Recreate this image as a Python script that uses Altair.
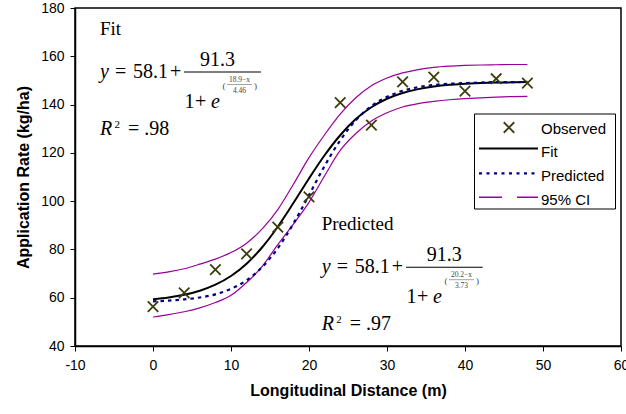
import altair as alt
import pandas as pd

# ---------------- data ----------------
obs_x = [0, 4, 8, 12, 16, 20, 24, 28, 32, 36, 40, 44, 48]
obs_y = [56.3, 62.0, 71.6, 78.2, 89.2, 101.8, 140.8, 131.5, 149.4, 151.4, 145.6, 150.7, 148.9]

curve_x = [0, 2, 4, 6, 8, 10, 12, 14, 16, 18, 20, 22, 24, 26, 28, 30, 32, 34, 36, 38, 40, 42, 44, 46, 48]
fit_y = [59.4, 60.1, 61.2, 62.9, 65.4, 69.0, 74.1, 80.9, 89.4, 99.2, 109.4, 119.0, 127.3,
         134.0, 138.9, 142.4, 144.8, 146.4, 147.5, 148.2, 148.6, 148.9, 149.1, 149.2, 149.3]
pred_y = [58.5, 58.8, 59.3, 60.1, 61.4, 63.7, 67.2, 72.7, 80.5, 90.7, 102.5, 114.6, 125.2,
          133.5, 139.4, 143.2, 145.7, 147.2, 148.1, 148.6, 148.9, 149.1, 149.3, 149.3, 149.4]
ci_upper = [69.8, 70.7, 72.0, 73.9, 76.0, 78.7, 82.6, 88.5, 96.5, 107.0, 118.0, 127.5, 136.0,
            142.8, 147.8, 151.0, 153.1, 154.5, 155.4, 155.9, 156.2, 156.4, 156.5, 156.6, 156.6]
ci_lower = [52.0, 53.0, 54.2, 55.8, 58.0, 61.0, 66.3, 73.0, 82.0, 90.5, 99.5, 110.5, 121.0,
            128.0, 133.2, 136.6, 139.0, 140.4, 141.3, 142.0, 142.5, 142.8, 143.1, 143.3, 143.4]

x_ticks = [-10, 0, 10, 20, 30, 40, 50, 60]
y_ticks = [40, 60, 80, 100, 120, 140, 160, 180]

legend_labels = ["Observed", "Fit", "Predicted", "95% CI"]

# ---------------- styles ----------------
SANS = "Liberation Sans"
SERIF = "Liberation Serif"
OBS_COLOR = "#3d3d0f"
FIT_COLOR = "#000000"
PRED_COLOR = "#000080"
CI_COLOR = "#990099"
X_SHAPE = "M-1,-1L1,1M-1,1L1,-1"

W, H = 546, 338

obs_df = pd.DataFrame({"x": obs_x, "y": obs_y})
fit_df = pd.DataFrame({"x": curve_x, "y": fit_y})
pred_df = pd.DataFrame({"x": curve_x, "y": pred_y})
up_df = pd.DataFrame({"x": curve_x, "y": ci_upper})
lo_df = pd.DataFrame({"x": curve_x, "y": ci_lower})

xenc = alt.X("x:Q",
             scale=alt.Scale(domain=[-10, 60], nice=False, zero=False),
             axis=alt.Axis(values=x_ticks, labelExpr="'' + datum.value",
                           title="Longitudinal Distance (m)",
                           grid=False, labelFlush=False, labelOverlap=False))
yenc = alt.Y("y:Q",
             scale=alt.Scale(domain=[40, 180], nice=False, zero=False),
             axis=alt.Axis(values=y_ticks, labelExpr="'' + datum.value",
                           title="Application Rate (kg/ha)",
                           grid=False, labelFlush=False, labelOverlap=False))


def curve(df, color, width, dash=None):
    kw = dict(color=color, strokeWidth=width, interpolate="monotone", clip=True)
    if dash:
        kw["strokeDash"] = dash
    return alt.Chart(df).mark_line(**kw).encode(x=xenc, y=yenc)


ci_up = curve(up_df, CI_COLOR, 1.2)
ci_lo = curve(lo_df, CI_COLOR, 1.2)
fit_line = curve(fit_df, FIT_COLOR, 2)
pred_line = curve(pred_df, PRED_COLOR, 2.2, [3.5, 4])
obs_pts = alt.Chart(obs_df).mark_point(shape=X_SHAPE, size=110, filled=False,
                                       color=OBS_COLOR, strokeWidth=1.8,
                                       opacity=1).encode(x=xenc, y=yenc)

one = pd.DataFrame({"k": [0]})


def label(s, x, y, size=20, font=SERIF, style="normal", align="left",
          baseline="alphabetic", color="black", weight="normal"):
    return alt.Chart(one).mark_text(text=s, font=font, fontSize=size, fontStyle=style,
                                    fontWeight=weight, align=align, baseline=baseline,
                                    color=color).encode(x=alt.value(x), y=alt.value(y))


def hline(x1, x2, y, color="black", width=1.0, dash=None):
    kw = dict(color=color, strokeWidth=width)
    if dash:
        kw["strokeDash"] = dash
    return alt.Chart(one).mark_rule(**kw).encode(x=alt.value(x1), x2=alt.value(x2), y=alt.value(y))


def equation(name, x0, base, num_cx, line_x1, line_x2, a_text, b_text, r2_text):
    small = "#444444"
    return [
        label(name, x0, base - 43, size=19),
        label("y", x0, base, style="italic"),
        label("=", x0 + 15, base),
        label("58.1", x0 + 33, base),
        label("+", x0 + 70, base),
        label("91.3", num_cx, base - 12, align="center"),
        hline(line_x1, line_x2, base - 5.5, width=1.1),
        label("1", line_x1 + 0.5, base + 30),
        label("+", line_x1 + 11, base + 30),
        label("e", line_x1 + 27, base + 30, style="italic"),
        label("(", line_x1 + 38.5, base + 8.5, size=9, baseline="middle", color=small),
        label(a_text, line_x1 + 55.5, base + 2.5, size=7.5, align="center", baseline="middle", color=small),
        hline(line_x1 + 43, line_x1 + 68, base + 7, width=0.6, color="#666666"),
        label(b_text, line_x1 + 55.5, base + 13.5, size=7.5, align="center", baseline="middle", color=small),
        label(")", line_x1 + 70, base + 8.5, size=9, baseline="middle", color=small),
        label("R", x0, base + 57, style="italic"),
        label("2", x0 + 14.5, base + 50, size=11),
        label(r2_text, x0 + 28, base + 57),
    ]


fit_eq = equation("Fit", 25, 69.5, 142.5, 109, 186, "18.9\u2212x", "4.46", "= .98")
pred_eq = equation("Predicted", 246.7, 264.7, 369.2, 331, 407.7, "20.2\u2212x", "3.73", "= .97")

# ---------------- legend ----------------
legend = [
    alt.Chart(one).mark_rect(fill="white", stroke="black", strokeWidth=1).encode(
        x=alt.value(399.5), x2=alt.value(540.5), y=alt.value(106), y2=alt.value(201)),
    alt.Chart(one).mark_point(shape=X_SHAPE, size=110, filled=False, color=OBS_COLOR,
                              strokeWidth=1.8, opacity=1).encode(x=alt.value(434), y=alt.value(119.5)),
    hline(404, 463, 140.5, color=FIT_COLOR, width=2),
    hline(404, 463, 165.3, color=PRED_COLOR, width=2.2, dash=[3, 4.5]),
    hline(404, 463, 189.3, color=CI_COLOR, width=1.4, dash=[23, 15]),
]
for lab, yy in zip(legend_labels, [120.5, 143.5, 168, 191.5]):
    legend.append(label(lab, 466, yy, size=15, font=SANS, baseline="middle"))

chart = alt.layer(
    ci_up, ci_lo, fit_line, pred_line, obs_pts, *fit_eq, *pred_eq, *legend
).properties(
    width=W, height=H,
    autosize=alt.AutoSizeParams(type="none"),
    padding={"left": 75, "top": 8, "right": 5, "bottom": 68},
    background="white",
).configure_view(
    stroke="black", strokeWidth=1.5
).configure_axis(
    labelFont=SANS, labelFontSize=14, labelColor="black",
    titleFont=SANS, titleFontSize=16, titleFontWeight="bold", titleColor="black",
    domainColor="black", domainWidth=1.5, tickColor="black", tickSize=5, tickWidth=1,
).configure_axisX(
    labelPadding=7, titlePadding=10
).configure_axisY(
    labelPadding=6, titlePadding=9
)

chart.save("out.html", embed_options={"renderer": "svg", "actions": False})
